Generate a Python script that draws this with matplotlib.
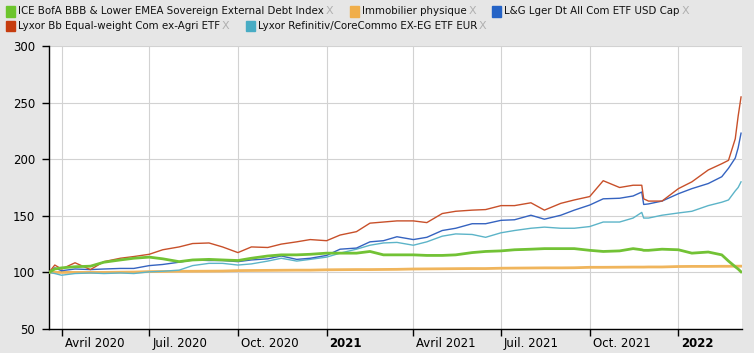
import matplotlib
matplotlib.use("Agg")
import matplotlib.pyplot as plt
import matplotlib.transforms as mtransforms
from matplotlib.patches import Rectangle
import pandas as pd

# dates (semi-monthly, plus a few extra points)
dates = ["2020-03-19", "2020-03-25", "2020-04-01", "2020-04-15", "2020-05-01", "2020-05-15",
         "2020-06-01", "2020-06-15", "2020-07-01", "2020-07-15", "2020-08-01", "2020-08-15",
         "2020-09-01", "2020-09-15", "2020-10-01", "2020-10-15", "2020-11-01", "2020-11-15",
         "2020-12-01", "2020-12-15", "2021-01-01", "2021-01-15", "2021-02-01", "2021-02-15",
         "2021-03-01", "2021-03-15", "2021-04-01", "2021-04-15", "2021-05-01", "2021-05-15",
         "2021-06-01", "2021-06-15", "2021-07-01", "2021-07-15", "2021-08-01", "2021-08-15",
         "2021-09-01", "2021-09-15", "2021-10-01", "2021-10-15", "2021-11-01", "2021-11-15",
         "2021-11-24", "2021-11-26", "2021-12-01", "2021-12-15", "2022-01-01", "2022-01-15",
         "2022-02-01", "2022-02-15", "2022-02-22", "2022-03-01", "2022-03-04", "2022-03-07"]

ice_bofa = [100, 103, 104, 105, 105.5, 109, 111, 112.5, 113.5, 112, 109.5, 111,
            111.5, 111, 110.5, 112.5, 114.5, 115.5, 115.5, 116, 117, 117, 117, 118.5,
            115.5, 115.5, 115.5, 115, 115, 115.5, 117.5, 118.5, 119, 120, 120.5, 121,
            121, 121, 119.5, 118.5, 119, 121, 120, 119.5, 119.5, 120.5, 120, 117,
            118, 115.5, 110, 105, 103, 100.5]

immobilier = [100, 100, 100, 100, 100, 100, 100.2, 100.3, 100.7, 100.8, 101, 101,
              101.1, 101.2, 101.6, 101.7, 101.8, 101.9, 102, 102, 102.3, 102.4, 102.5, 102.5,
              102.6, 102.7, 103, 103.1, 103.2, 103.3, 103.4, 103.4, 103.7, 103.8, 103.9, 104,
              104, 104.1, 104.5, 104.5, 104.6, 104.7, 104.7, 104.7, 104.8, 104.8, 105.2, 105.3,
              105.3, 105.4, 105.4, 105.5, 105.5, 105.5]

lg_commo = [100, 104, 101.5, 103, 102.5, 103, 103.5, 103.5, 106, 107, 109, 111,
            110.5, 110.5, 109.5, 111, 112, 114.5, 111.5, 112.5, 115, 120.5, 121.5, 127,
            128, 131.5, 129, 131, 137, 139, 143, 143, 146, 146.5, 150.5, 147,
            150.5, 155, 159.5, 165, 165.5, 167.5, 171, 160, 160.5, 163, 169.5, 174,
            178.5, 184.5, 192, 201, 210, 223]

lyxor_bb = [100, 106.5, 103, 108.5, 102.5, 109.5, 112.5, 114, 116, 120, 122.5, 125.5,
            126, 122.5, 117.5, 122.5, 122, 125, 127, 129, 128, 133, 136, 143.5,
            144.5, 145.5, 145.5, 144, 152, 154, 155, 155.5, 159, 159, 161.5, 155,
            161, 164, 167, 181, 175, 177, 177, 165, 163, 163, 174, 180,
            190.5, 196, 199, 218, 238, 255]

lyxor_refinitiv = [100, 99, 97.5, 99, 99.5, 99, 99.5, 99, 100.5, 101, 102, 106,
                   108, 108, 106.5, 107.5, 110, 112.5, 110, 111.5, 113.5, 117, 120.5, 124,
                   126, 126.5, 124, 127, 132, 134, 133.5, 131, 135, 137, 139, 140,
                   139, 139, 140.5, 144.5, 144.5, 148, 153, 148, 148, 150.5, 152.5, 154,
                   159, 162, 164, 172, 175, 180]

names = ["ICE BofA BBB & Lower EMEA Sovereign External Debt Index",
         "Immobilier physique",
         "L&G Lger Dt All Com ETF USD Cap",
         "Lyxor Bb Equal-weight Com ex-Agri ETF",
         "Lyxor Refinitiv/CoreCommo EX-EG ETF EUR"]
legend_colors = ["#6cc52c", "#f0ae4a", "#2563c6", "#c63c0e", "#48acc4"]

tick_dates = ["2020-04-01", "2020-07-01", "2020-10-01", "2021-01-01",
              "2021-04-01", "2021-07-01", "2021-10-01", "2022-01-01"]
tick_labels = ["Avril 2020", "Juil. 2020", "Oct. 2020", "2021",
               "Avril 2021", "Juil. 2021", "Oct. 2021", "2022"]

x = pd.to_datetime(dates)

W, H = 754, 353
fig = plt.figure(figsize=(W / 100, H / 100), dpi=100, facecolor="#e6e6e6")
ax = fig.add_axes([49 / W, 24 / H, (742 - 49) / W, (329 - 46) / H])
ax.set_facecolor("white")

ax.plot(x, immobilier, color="#f0b55c", lw=2.0, zorder=3)
ax.plot(x, lyxor_refinitiv, color="#5cb4c8", lw=1.0, zorder=4)
ax.plot(x, lg_commo, color="#3563c0", lw=1.0, zorder=5)
ax.plot(x, lyxor_bb, color="#c8502a", lw=1.0, zorder=6)
ax.plot(x, ice_bofa, color="#72c235", lw=2.0, zorder=7)

ax.set_xlim(pd.Timestamp("2020-03-19"), pd.Timestamp("2022-03-08"))
ax.set_ylim(50, 300)
ax.set_yticks([50, 100, 150, 200, 250, 300])
ax.set_xticks(pd.to_datetime(tick_dates))
ax.set_xticklabels(tick_labels)

ax.grid(True, color="#d2d2d2", lw=0.8, zorder=0)
for s in ["top", "right"]:
    ax.spines[s].set_visible(False)
for s in ["left", "bottom"]:
    ax.spines[s].set_color("black")
    ax.spines[s].set_linewidth(1.0)

ax.tick_params(axis="y", length=5, width=1, pad=5, labelsize=8.5, colors="black")
ax.tick_params(axis="x", length=5, width=1, pad=0.5, labelsize=8.5, colors="black")

offset = mtransforms.ScaledTranslation(0.03, 0, fig.dpi_scale_trans)
for lab in ax.get_xticklabels():
    lab.set_horizontalalignment("left")
    lab.set_transform(lab.get_transform() + offset)
    if lab.get_text() in ("2021", "2022"):
        lab.set_fontweight("bold")

# legend drawn by hand: colour square, name, grey X
renderer = fig.canvas.get_renderer()


def legend_row(items, yc):
    xp = 6
    for name, color in items:
        fig.patches.append(Rectangle((xp / W, (H - yc - 5) / H), 9 / W, 10 / H,
                                     transform=fig.transFigure, color=color))
        t = fig.text((xp + 12) / W, (H - yc) / H, name, fontsize=7.4,
                     va="center", ha="left", color="#111111")
        bb = t.get_window_extent(renderer)
        tx = fig.text((bb.x1 + 2) / W, (H - yc) / H, "X", fontsize=8,
                      va="center", ha="left", color="#b0b0b0")
        bb2 = tx.get_window_extent(renderer)
        xp = bb2.x1 + 16


legend_row(list(zip(names[:3], legend_colors[:3])), 11.5)
legend_row(list(zip(names[3:], legend_colors[3:])), 26)

fig.savefig("out.png", dpi=100, facecolor=fig.get_facecolor())
